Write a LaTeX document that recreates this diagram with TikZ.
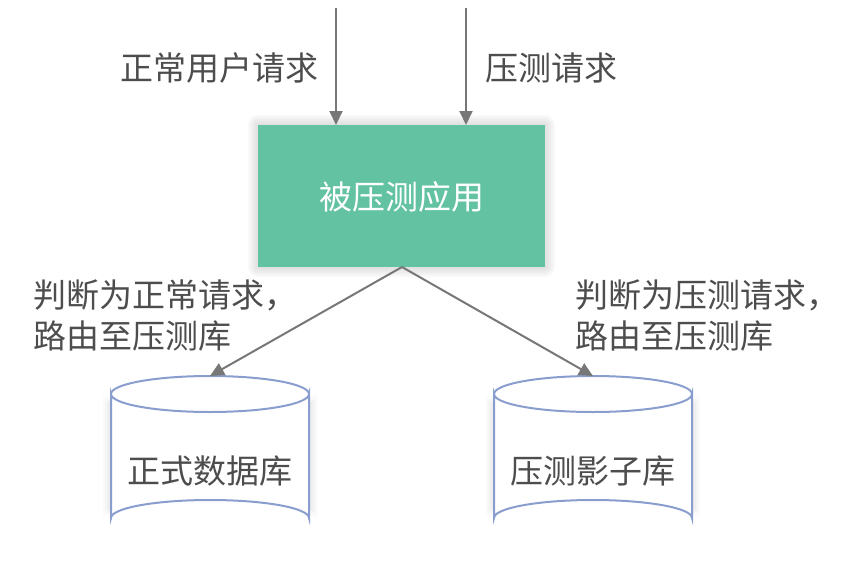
\documentclass[tikz,border=0pt]{standalone}
\usepackage{fontspec}
\setmainfont{Noto Sans CJK SC}
\usetikzlibrary{arrows.meta}
\definecolor{txt}{HTML}{4D4D4D}
\definecolor{ln}{HTML}{777777}
\definecolor{app}{HTML}{62C2A2}
\definecolor{cyl}{HTML}{8A9DCF}
\tikzset{
  conn/.style={draw=ln, line width=2pt, -{Triangle[width=13pt,length=14pt]}},
  lbl/.style={text=txt, font=\fontsize{33}{41}\selectfont, inner sep=0pt},
  cylbody/.style={draw=cyl, line width=2pt, fill=white},
}
\begin{document}
\begin{tikzpicture}[x=1pt,y=-1pt]
\useasboundingbox (0,0) rectangle (862,565);
% shadow of app box
\foreach \d in {2,4,6,8,10}{
  \fill[black, opacity=0.025, rounded corners=\d] (258-\d,125-\d) rectangle (545+\d,267+\d);
}
\node[fill=app, minimum width=287pt, minimum height=142pt, inner sep=0pt, anchor=north west] (app) at (258,125) {};
\node[text=white, font=\fontsize{33}{41}\selectfont, inner sep=0pt] (applbl) at (402,197) {被压测应用};
\coordinate (s1) at (336,8);
\coordinate (s2) at (466,8);
\draw[conn] (s1) -- (s1 |- app.north);
\draw[conn] (s2) -- (s2 |- app.north);
\node[lbl, anchor=east] (l1) at (319,68) {正常用户请求};
\node[lbl, anchor=west] (l2) at (485,68) {压测请求};
% cylinders
\foreach \cx/\nm/\tx in {210/dbA/正式数据库, 593/dbB/压测影子库}{
  \foreach \d in {2,4,6,8}{
    \fill[black, opacity=0.02] (\cx-99-\d,394) -- (\cx-99-\d,518) arc[start angle=180,end angle=360,x radius=99+\d,y radius=18+\d] -- (\cx+99+\d,394) arc[start angle=0,end angle=180,x radius=99+\d,y radius=18+\d] -- cycle;
  }
  \path[cylbody] (\cx-99,394) -- (\cx-99,518) arc[start angle=180,end angle=360,x radius=99,y radius=18] -- (\cx+99,394) arc[start angle=0,end angle=180,x radius=99,y radius=18] -- cycle;
  \draw[draw=cyl, line width=2pt] (\cx-99,394) arc[start angle=180,end angle=360,x radius=99,y radius=18];
  \coordinate (\nm top) at (\cx,376);
  \node[lbl] (\nm) at (\cx,471) {\tx};
}
\coordinate (appb) at (402,267);
\draw[conn] (appb) -- (dbAtop);
\draw[conn] (appb) -- (dbBtop);
\node[lbl, anchor=north west, align=left] (l3) at (33,280) {判断为正常请求，\\路由至压测库};
\node[lbl, anchor=north west, align=left] (l4) at (575,280) {判断为压测请求，\\路由至压测库};
\end{tikzpicture}
\end{document}
